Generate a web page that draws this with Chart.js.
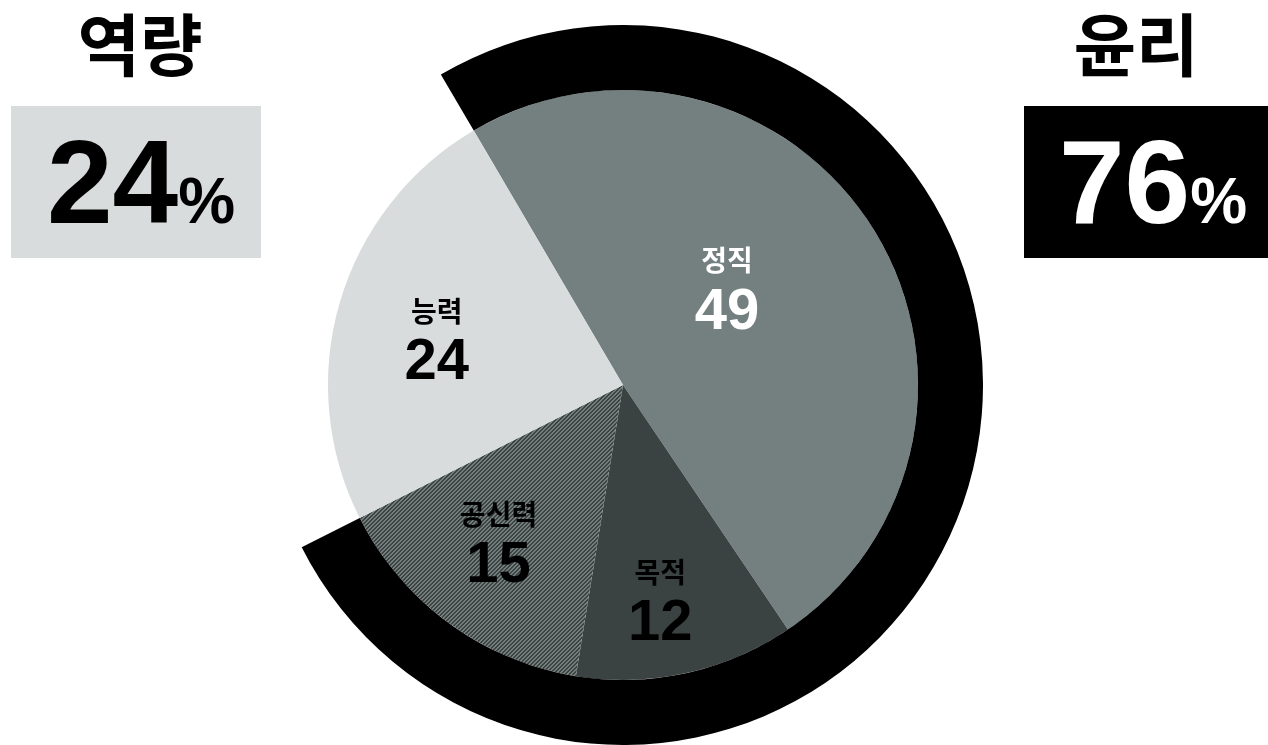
<!DOCTYPE html>
<html>
<head>
<meta charset="utf-8">
<script src="https://cdn.jsdelivr.net/npm/chart.js@4.4.1/dist/chart.umd.min.js"></script>
<style>
  html, body { margin: 0; padding: 0; background: #fff; overflow: hidden; }
  body { width: 1268px; height: 745px; position: relative; }
  .title { position: absolute; top: 0px; width: 250px; text-align: center; font-family: "Noto Sans CJK KR", sans-serif; font-weight: 700; font-size: 68px; line-height: 84px; color: #000; }
  .box { position: absolute; top: 106px; height: 152px; text-align: center; font-family: "Liberation Sans", Arial, sans-serif; font-weight: 700; line-height: 152px; }
  .box .num { font-size: 118px; }
  .box .pct { font-size: 64px; }
  #wrap { position: absolute; left: 263px; top: 25px; width: 720px; height: 720px; }
</style>
</head>
<body>
<div class="title" id="titleL" style="left:15px"></div>
<div class="title" id="titleR" style="left:1011px"></div>
<div class="box" id="boxL" style="left:11px; width:240px; padding-left:10px; background:#d9dcdc; color:#000"></div>
<div class="box" id="boxR" style="left:1024px; width:230px; padding-left:14px; background:#000; color:#fff"></div>
<div id="wrap"><canvas id="pie"></canvas></div>
<script>
// data
const categories = ["정직", "목적", "공신력", "능력"]
const scores = [49, 12, 15, 24]
const groups = ["윤리", "역량"]
const groupShares = [76, 24]

// summary boxes
document.getElementById("titleR").textContent = groups[0]
document.getElementById("titleL").textContent = groups[1]
document.getElementById("boxR").innerHTML = `<span class="num">${groupShares[0]}</span><span class="pct">%</span>`
document.getElementById("boxL").innerHTML = `<span class="num">${groupShares[1]}</span><span class="pct">%</span>`

// diagonal hatch for 공신력, pixel stairs like the original
const makeHatch = () => {
    const c = document.createElement("canvas")
    c.width = 4
    c.height = 4
    const g = c.getContext("2d")
    for (let x = 0; x < 4; x++) {
        for (let y = 0; y < 4; y++) {
            g.fillStyle = (x + y) % 4 < 2 ? "#727d7c" : "#3c4443"
            g.fillRect(x, y, 1, 1)
        }
    }
    return g.createPattern(c, "repeat")
}

// where each slice label sits: fraction along the arc, fraction of radius
const labelPlace = [[0.44, 0.48], [0.56, 0.74], [0.54, 0.68], [0.47, 0.65]]
const labelColors = ["#fff", "#000", "#000", "#000"]

const sliceLabels = {
    id: "sliceLabels",
    afterDatasetsDraw(chart) {
        const ctx = chart.ctx
        const meta = chart.getDatasetMeta(1)
        meta.data.forEach((arc, i) => {
            const p = arc.getProps(["x", "y", "startAngle", "endAngle", "outerRadius"])
            const a = p.startAngle + labelPlace[i][0] * (p.endAngle - p.startAngle)
            const r = p.outerRadius * labelPlace[i][1]
            const x = p.x + Math.cos(a) * r
            const y = p.y + Math.sin(a) * r
            ctx.save()
            ctx.fillStyle = labelColors[i]
            ctx.textAlign = "center"
            ctx.textBaseline = "middle"
            ctx.font = "bold 28px 'Noto Sans CJK KR'"
            ctx.fillText(categories[i], x, y - 28)
            ctx.font = "bold 58px 'Liberation Sans'"
            ctx.fillText(String(scores[i]), x, y + 24)
            ctx.restore()
        })
    }
}

new Chart(document.getElementById("pie"), {
    type: "pie",
    data: {
        labels: categories,
        datasets: [
            {
                data: groupShares,
                backgroundColor: ["#000000", "rgba(0,0,0,0)"],
                weight: 65,
            },
            {
                data: scores,
                backgroundColor: ["#748080", "#3b4342", makeHatch(), "#d9dcdc"],
                weight: 295,
            },
        ],
    },
    options: {
        responsive: true,
        maintainAspectRatio: false,
        animation: false,
        rotation: -30.4,
        borderWidth: 0,
        elements: { arc: { borderWidth: 0, hoverOffset: 0 } },
        layout: { padding: 0 },
        plugins: { legend: { display: false }, tooltip: { enabled: false } },
    },
    plugins: [sliceLabels],
})
</script>
</body>
</html>
